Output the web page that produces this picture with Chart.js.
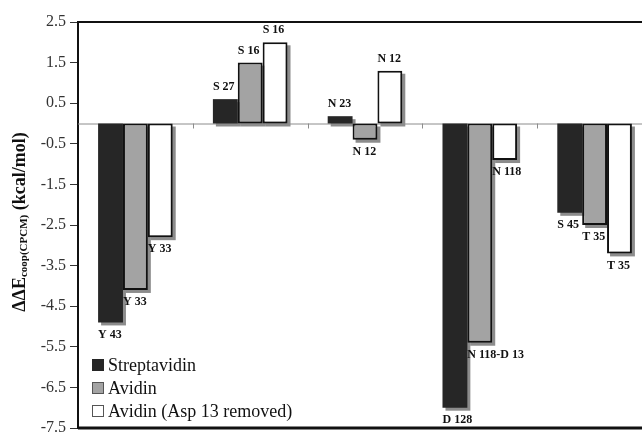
<!DOCTYPE html>
<html>
<head>
<meta charset="utf-8">
<script src="https://cdn.jsdelivr.net/npm/chart.js@4/dist/chart.umd.min.js"></script>
<style>
  html, body { margin: 0; padding: 0; background: #fff; overflow: hidden; }
  #wrap { width: 665px; height: 432px; }
</style>
</head>
<body>
<div id="wrap"><canvas id="chart" width="665" height="432"></canvas></div>
<script>
// groups along the x axis (no labels shown in the figure)
const categories = ["Tyr", "Ser", "Asn", "Asp", "Ser/Thr"];

const seriesNames = ["Streptavidin", "Avidin", "Avidin (Asp 13 removed)"];

// ΔΔE coop (kcal/mol)
const streptavidin = [-4.9, 0.6, 0.18, -7.0, -2.2];
const avidin = [-4.1, 1.5, -0.4, -5.4, -2.5];
const avidinNoAsp = [-2.8, 2.0, 1.3, -0.9, -3.2];

// residue labels on each bar
const streptavidinLabels = ["Y 43", "S 27", "N 23", "D 128", "S 45"];
const avidinLabels = ["Y 33", "S 16", "N 12", "N 118-D 13", "T 35"];
const avidinNoAspLabels = ["Y 33", "S 16", "N 12", "N 118", "T 35"];

const yMin = -7.5;
const yMax = 2.5;
const yStep = 1;

const barLabels = [streptavidinLabels, avidinLabels, avidinNoAspLabels];

const serif = "'Liberation Serif', 'Times New Roman', serif";

// grey drop shadow behind every bar
const shadowPlugin = {
  id: "barShadow",
  beforeDatasetsDraw(chart) {
    const ctx = chart.ctx;
    ctx.save();
    ctx.fillStyle = "rgba(0,0,0,0.45)";
    chart.data.datasets.forEach(function(ds, i) {
      chart.getDatasetMeta(i).data.forEach(function(bar) {
        const top = Math.min(bar.y, bar.base);
        const h = Math.abs(bar.y - bar.base);
        ctx.fillRect(bar.x - bar.width / 2 + 3, top + 3, bar.width, h);
      });
    });
    ctx.restore();
  }
};

// zero line, category ticks and plot frame
const framePlugin = {
  id: "frame",
  beforeDatasetsDraw(chart) {
    const ctx = chart.ctx;
    const area = chart.chartArea;
    const x = chart.scales.x;
    const y0 = chart.scales.y.getPixelForValue(0);
    ctx.save();
    ctx.strokeStyle = "#8c8c8c";
    ctx.lineWidth = 1;
    ctx.beginPath();
    ctx.moveTo(area.left, y0 + 0.5);
    ctx.lineTo(area.right, y0 + 0.5);
    for (let i = 1; i < categories.length; i++) {
      const bx = Math.round((x.getPixelForValue(i - 1) + x.getPixelForValue(i)) / 2) + 0.5;
      ctx.moveTo(bx, y0);
      ctx.lineTo(bx, y0 + 5);
    }
    ctx.stroke();
    ctx.restore();
  },
  afterDraw(chart) {
    const ctx = chart.ctx;
    const area = chart.chartArea;
    ctx.save();
    ctx.strokeStyle = "#111";
    ctx.lineWidth = 2;
    ctx.beginPath();
    ctx.moveTo(area.left, area.top);
    ctx.lineTo(area.right, area.top);
    ctx.stroke();
    ctx.lineWidth = 3;
    ctx.beginPath();
    ctx.moveTo(area.left, area.bottom);
    ctx.lineTo(area.right, area.bottom);
    ctx.stroke();
    ctx.restore();
  }
};

// residue names next to bar ends
const labelPlugin = {
  id: "barLabels",
  afterDatasetsDraw(chart) {
    const ctx = chart.ctx;
    ctx.save();
    ctx.font = "bold 12px " + serif;
    ctx.fillStyle = "#111";
    ctx.textAlign = "left";
    ctx.textBaseline = "middle";
    chart.data.datasets.forEach(function(ds, i) {
      chart.getDatasetMeta(i).data.forEach(function(bar, j) {
        const v = ds.data[j];
        const ty = v < 0 ? bar.y + 12 : bar.y - 12;
        ctx.fillText(barLabels[i][j], bar.x - bar.width / 2, ty);
      });
    });
    ctx.restore();
  }
};

// legend inside the plot, bottom left
const legendPlugin = {
  id: "insideLegend",
  afterDraw(chart) {
    const ctx = chart.ctx;
    const area = chart.chartArea;
    const rows = [area.bottom - 63, area.bottom - 40, area.bottom - 17];
    ctx.save();
    ctx.font = "18px " + serif;
    ctx.textBaseline = "middle";
    chart.data.datasets.forEach(function(ds, i) {
      const bx = area.left + 14;
      const by = rows[i] - 6;
      ctx.fillStyle = ds.backgroundColor;
      ctx.fillRect(bx, by, 12, 12);
      ctx.strokeStyle = i === 0 ? ds.backgroundColor : "#555";
      ctx.lineWidth = 1;
      ctx.strokeRect(bx + 0.5, by + 0.5, 11, 11);
      ctx.fillStyle = "#111";
      ctx.fillText(ds.label, bx + 16, rows[i] + 1);
    });
    ctx.restore();
  }
};

// rotated y title with subscript
const yTitlePlugin = {
  id: "yTitle",
  afterDraw(chart) {
    const ctx = chart.ctx;
    const area = chart.chartArea;
    const parts = [
      { t: "\u0394\u0394E", f: "bold 18px " + serif, dy: 0 },
      { t: "coop(CPCM)", f: "bold 11px " + serif, dy: 4 },
      { t: " (kcal/mol)", f: "bold 18px " + serif, dy: 0 }
    ];
    ctx.save();
    let total = 0;
    parts.forEach(function(p) {
      ctx.font = p.f;
      p.w = ctx.measureText(p.t).width;
      total += p.w;
    });
    ctx.translate(20, (area.top + area.bottom) / 2 - 3);
    ctx.rotate(-Math.PI / 2);
    ctx.fillStyle = "#111";
    ctx.textBaseline = "middle";
    let x = -total / 2;
    parts.forEach(function(p) {
      ctx.font = p.f;
      ctx.fillText(p.t, x, p.dy);
      x += p.w;
    });
    ctx.restore();
  }
};

const ctx = document.getElementById("chart").getContext("2d");
new Chart(ctx, {
  type: "bar",
  data: {
    labels: categories,
    datasets: [
      {
        label: seriesNames[0],
        data: streptavidin,
        backgroundColor: "#262626",
        borderColor: "#262626",
        borderWidth: 0,
        borderSkipped: false
      },
      {
        label: seriesNames[1],
        data: avidin,
        backgroundColor: "#a3a3a3",
        borderColor: "#111",
        borderWidth: 2,
        borderSkipped: false
      },
      {
        label: seriesNames[2],
        data: avidinNoAsp,
        backgroundColor: "#ffffff",
        borderColor: "#111",
        borderWidth: 2,
        borderSkipped: false
      }
    ]
  },
  options: {
    responsive: false,
    animation: false,
    devicePixelRatio: 1,
    layout: { padding: { top: 22, bottom: 4, left: 0, right: 13 } },
    plugins: {
      legend: { display: false },
      tooltip: { enabled: false }
    },
    datasets: {
      bar: { categoryPercentage: 0.65, barPercentage: 1.0 }
    },
    scales: {
      x: { display: false },
      y: {
        min: yMin,
        max: yMax,
        ticks: {
          stepSize: yStep,
          color: "#333",
          font: { family: serif, size: 16 },
          padding: 4,
          callback: function(v) { return Number(v).toFixed(1); }
        },
        grid: {
          drawOnChartArea: false,
          drawTicks: true,
          tickLength: 8,
          color: "#333"
        },
        border: { color: "#111", width: 2 },
        afterFit: function(scale) {
          scale.width = 78;
          scale.paddingTop = 0;
          scale.paddingBottom = 0;
        }
      }
    }
  },
  plugins: [shadowPlugin, framePlugin, labelPlugin, legendPlugin, yTitlePlugin]
});
</script>
</body>
</html>
